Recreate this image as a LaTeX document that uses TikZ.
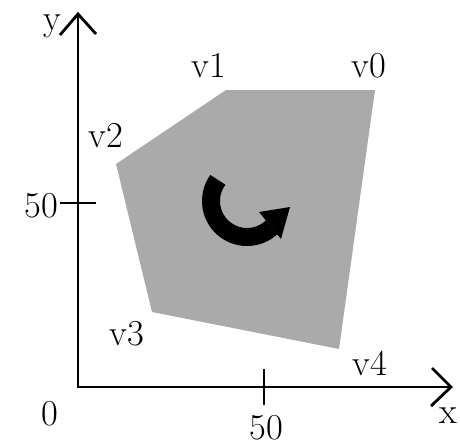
\documentclass[tikz,border=0pt]{standalone}
\usepackage{tikz}
\usetikzlibrary{calc}
\definecolor{polyfill}{RGB}{170,170,170}
\begin{document}
\begin{tikzpicture}[x=1pt,y=-1pt,
  axis/.style={line width=2.8pt,black,line cap=butt,line join=miter},
  lbl/.style={font=\fontsize{36.5}{40}\selectfont,inner sep=0pt,anchor=base},
  turn/.style={line width=18pt,black}]
\useasboundingbox (0,0) rectangle (460,445);
% polygon
\coordinate (v0) at (375,90);
\coordinate (v1) at (226,90);
\coordinate (v2) at (116,164);
\coordinate (v3) at (152,312);
\coordinate (v4) at (339,349);
\fill[polyfill] (v0) -- (v1) -- (v2) -- (v3) -- (v4) -- cycle;
% axes
\coordinate (o) at (78,387);
\coordinate (ytip) at (78,14);
\coordinate (xtip) at (451,387);
\draw[axis] (ytip) -- (o) -- (xtip);
\coordinate (ya) at (60,35);
\coordinate (yb) at (96,34);
\draw[axis] (ya) -- (ytip) -- (yb);
\coordinate (xa) at (432,368);
\coordinate (xb) at (431,406);
\draw[axis] (xa) -- (xtip) -- (xb);
% ticks
\coordinate (yt1) at (60,203);
\coordinate (yt2) at (96,203);
\draw[axis] (yt1) -- (yt2);
\coordinate (xt1) at (264,369);
\coordinate (xt2) at (264,405);
\draw[axis] (xt1) -- (xt2);
% labels
\node[lbl] (ly) at (52,30) {y};
\node[lbl] (lx) at (448,423) {x};
\node[lbl] (l0) at (50,425) {0};
\node[lbl] (ly50) at (41,217) {50};
\node[lbl] (lx50) at (266,439) {50};
\node[lbl] (lv0) at (369,77) {v0};
\node[lbl] (lv1) at (209,77) {v1};
\node[lbl] (lv2) at (106,147) {v2};
\node[lbl] (lv3) at (127,345) {v3};
\node[lbl] (lv4) at (370,375) {v4};
% rotation arrow
\coordinate (c) at (247,201);
\draw[turn] ($(c)+(216:36)$) arc[start angle=216,end angle=47,radius=36];
\coordinate (ah1) at (259,212);
\coordinate (ah2) at (290,207);
\coordinate (ah3) at (281,239);
\fill[black] (ah1) -- (ah2) -- (ah3) -- cycle;
\end{tikzpicture}
\end{document}
